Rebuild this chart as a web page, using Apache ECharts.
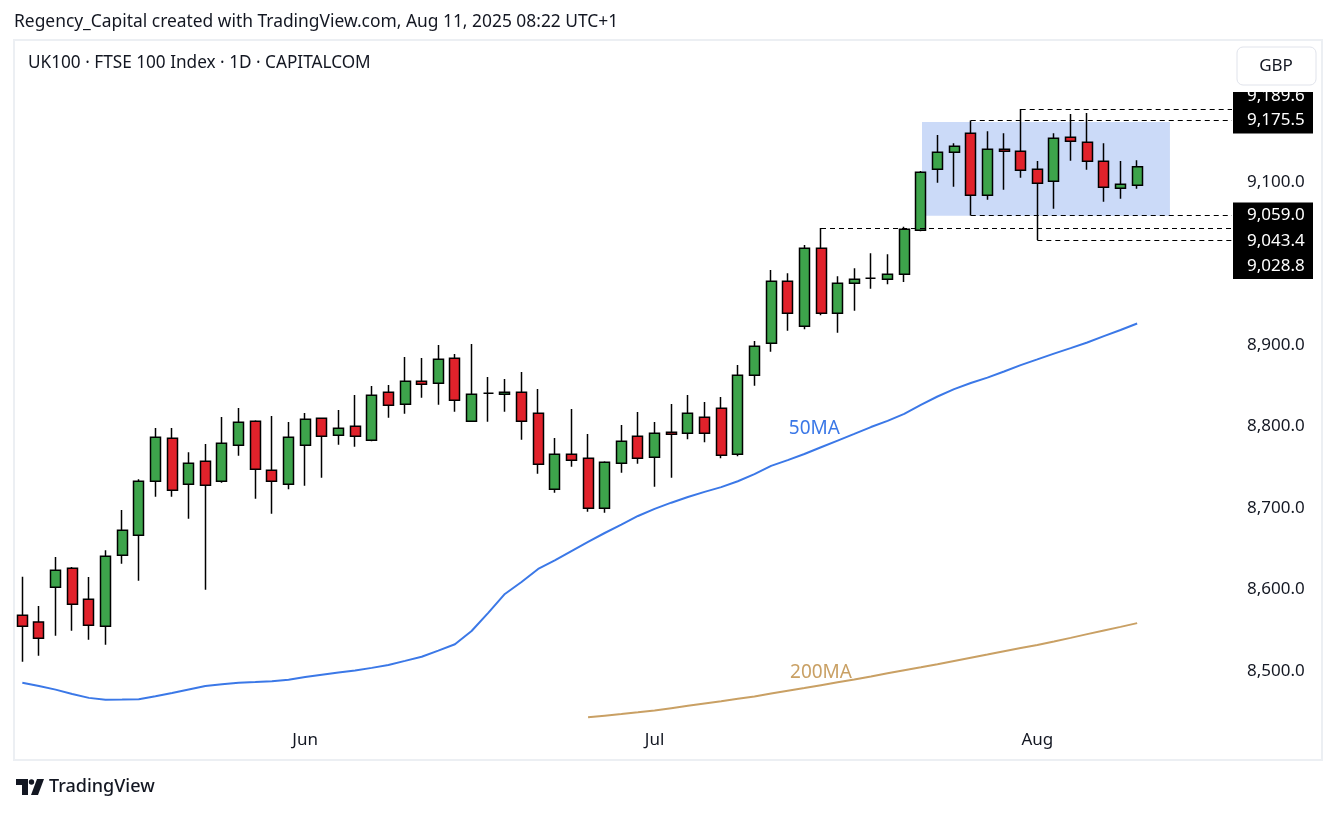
<!DOCTYPE html>
<html>
<head>
<meta charset="utf-8">
<script src="https://cdn.jsdelivr.net/npm/echarts@6/dist/echarts.min.js"></script>
<style>
  html, body { margin: 0; padding: 0; background: #fff; }
  #main { width: 1337px; height: 813px; }
</style>
</head>
<body>
<div id="main"></div>
<script>
// trading days shown (UK100 daily, capital.com)
const dates = [
  '2025-05-08','2025-05-09','2025-05-12','2025-05-13','2025-05-14','2025-05-15','2025-05-16',
  '2025-05-19','2025-05-20','2025-05-21','2025-05-22','2025-05-23','2025-05-26','2025-05-27',
  '2025-05-28','2025-05-29','2025-05-30',
  '2025-06-02','2025-06-03','2025-06-04','2025-06-05','2025-06-06','2025-06-09','2025-06-10',
  '2025-06-11','2025-06-12','2025-06-13','2025-06-16','2025-06-17','2025-06-18','2025-06-19',
  '2025-06-20','2025-06-23','2025-06-24','2025-06-25','2025-06-26','2025-06-27','2025-06-30',
  '2025-07-01','2025-07-02','2025-07-03','2025-07-04','2025-07-07','2025-07-08','2025-07-09',
  '2025-07-10','2025-07-11','2025-07-14','2025-07-15','2025-07-16','2025-07-17','2025-07-18',
  '2025-07-21','2025-07-22','2025-07-23','2025-07-24','2025-07-25','2025-07-28','2025-07-29',
  '2025-07-30','2025-07-31',
  '2025-08-01','2025-08-04','2025-08-05','2025-08-06','2025-08-07','2025-08-08','2025-08-11'
];

const open = [
  8568.3, 8560.1, 8602.7, 8626.0, 8588.0, 8554.8, 8642.0, 8666.5, 8732.8, 8785.5,
  8729.1, 8757.3, 8732.8, 8776.9, 8806.4, 8746.3, 8729.1, 8776.9, 8810.1, 8789.2,
  8800.2, 8783.1, 8842.0, 8827.2, 8855.5, 8853.0, 8883.7, 8806.4, 8840.7, 8839.5,
  8842.0, 8816.2, 8722.9, 8765.9, 8761.0, 8699.6, 8754.8, 8788.0, 8762.2, 8792.9,
  8791.7, 8811.3, 8822.3, 8765.9, 8862.8, 8902.1, 8978.2, 8923.0, 9018.6, 8938.9,
  8975.7, 8981.8, 8980.6, 8986.7, 9040.7, 9115.6, 9136.4, 9159.8, 9083.7, 9140.1,
  9137.7, 9115.6, 9100.9, 9154.8, 9148.7, 9125.4, 9092.3, 9096.0
];
const high = [
  8615.7, 8579.8, 8639.9, 8627.6, 8615.3, 8648.1, 8697.5, 8735.2, 8798.2, 8798.2,
  8768.3, 8778.5, 8811.7, 8822.7, 8807.6, 8812.9, 8805.5, 8816.6, 8810.1, 8820.2,
  8838.6, 8849.7, 8850.9, 8885.3, 8884.1, 8900.0, 8889.0, 8901.2, 8860.7, 8858.3,
  8866.9, 8846.0, 8785.9, 8821.5, 8790.8, 8757.3, 8801.8, 8817.8, 8805.5, 8827.6,
  8838.6, 8830.1, 8836.2, 8875.5, 8904.9, 8992.0, 8988.0, 9022.7, 9043.4, 8984.3,
  8994.1, 9012.5, 9011.3, 9045.0, 9113.5, 9157.7, 9147.5, 9175.5, 9162.2, 9159.8,
  9189.6, 9125.8, 9159.8, 9183.4, 9184.7, 9147.5, 9125.8, 9126.6
];
const low = [
  8511.4, 8518.8, 8543.3, 8549.4, 8538.4, 8532.3, 8631.7, 8610.8, 8713.9, 8713.9,
  8686.9, 8599.8, 8731.0, 8764.2, 8711.4, 8693.0, 8722.9, 8727.4, 8737.2, 8777.7,
  8775.2, 8782.0, 8810.8, 8815.7, 8835.3, 8826.8, 8818.2, 8805.5, 8805.9, 8818.2,
  8783.8, 8742.1, 8718.8, 8750.7, 8695.5, 8694.2, 8743.3, 8754.4, 8726.1, 8737.2,
  8784.3, 8780.6, 8761.0, 8763.4, 8850.1, 8891.8, 8917.5, 8919.3, 8936.4, 8915.1,
  8942.1, 8969.1, 8974.5, 8977.3, 9039.6, 9099.1, 9094.2, 9059.0, 9078.3, 9090.6,
  9105.3, 9028.8, 9067.2, 9126.1, 9115.1, 9075.9, 9079.5, 9091.8
];
const close = [
  8554.8, 8540.1, 8623.6, 8581.8, 8556.1, 8640.7, 8672.6, 8732.8, 8786.7, 8721.7,
  8754.8, 8727.9, 8779.4, 8805.2, 8747.5, 8732.8, 8786.7, 8808.8, 8788.0, 8797.8,
  8788.0, 8838.3, 8826.0, 8855.5, 8851.8, 8882.4, 8832.1, 8839.5, 8840.7, 8842.0,
  8806.4, 8753.6, 8765.9, 8758.5, 8699.6, 8756.1, 8781.8, 8761.0, 8791.7, 8790.4,
  8816.2, 8791.7, 8764.7, 8862.8, 8898.4, 8978.2, 8938.9, 9018.6, 8938.9, 8975.7,
  8980.6, 8981.8, 8986.7, 9041.9, 9111.9, 9136.4, 9143.8, 9083.7, 9140.1, 9137.7,
  9114.4, 9098.4, 9153.6, 9149.9, 9125.4, 9093.5, 9097.2, 9118.8
];

// moving averages
const ma50 = [
  8485.5, 8481.5, 8477.1, 8471.8, 8467.0, 8464.8, 8465.0, 8465.3, 8469.0, 8472.9,
  8477.3, 8481.5, 8483.8, 8485.5, 8486.4, 8487.4, 8489.3, 8492.5, 8495.5, 8498.0,
  8500.5, 8503.8, 8507.4, 8512.4, 8517.5, 8525.0, 8532.8, 8549.1, 8571.3, 8594.5,
  8609.2, 8625.2, 8635.6, 8647.2, 8658.5, 8669.3, 8679.6, 8690.2, 8698.9, 8706.5,
  8713.4, 8719.8, 8725.6, 8732.8, 8741.5, 8751.7, 8758.7, 8766.3, 8774.5, 8782.7,
  8790.9, 8799.3, 8806.9, 8815.5, 8826.4, 8836.8, 8845.8, 8853.3, 8860.0, 8867.5,
  8875.3, 8882.3, 8889.4, 8896.1, 8903.1, 8910.9, 8918.4, 8926.4
];
const ma200Start = 34;
const ma200 = [
  8443.1, 8445.2, 8447.2, 8449.3, 8451.5, 8454.4, 8457.2, 8460.0, 8462.8, 8465.8,
  8468.8, 8472.3, 8475.7, 8479.1, 8482.6, 8486.1, 8489.6, 8493.3, 8497.1, 8500.9,
  8504.5, 8508.3, 8512.3, 8516.2, 8520.1, 8524.2, 8528.1, 8532.0, 8536.2, 8540.6,
  8545.2, 8549.7, 8554.1, 8558.7
];

const yTicks = [8500, 8600, 8700, 8800, 8900, 9000, 9100];

// drawn range box (bar index / price)
const boxFrom = 54.07, boxTo = 68.97, boxHigh = 9173.6, boxLow = 9058.6;

const xMin = -0.44, xMax = 72.7;
const yMin = 8442.3, yMax = 9273.0;

const up = '#3da44b', down = '#e1222b';
const ink = '#131722';
const font = 'Noto Sans';
const fmt = v => v.toLocaleString('en-US', { minimumFractionDigits: 1, maximumFractionDigits: 1 });
const monthNames = { '05': 'May', '06': 'Jun', '07': 'Jul', '08': 'Aug' };

const monthStarts = [];
dates.forEach((d, i) => {
  if (i > 0 && d.slice(5, 7) !== dates[i - 1].slice(5, 7)) monthStarts.push(i);
});

const last = dates.length - 1;
// horizontal level lines: start bar, price, label shift
const levels = [
  [60, high[60], -13],
  [57, high[57], 0],
  [57, low[57], 0],
  [48, high[48], 13],
  [61, low[61], 26]
];

function tagLabel(bg, dy) {
  return {
    show: true,
    position: 'end',
    distance: 1,
    formatter: p => fmt(p.value),
    color: '#fff',
    backgroundColor: bg,
    fontFamily: font,
    fontSize: 17,
    lineHeight: 17,
    width: 58,
    padding: [5, 8, 4, 14],
    offset: [0, dy]
  };
}

const markLines = levels.map(l => [
  {
    coord: [l[0], l[1]],
    value: l[1],
    lineStyle: { color: '#000', type: [5, 4], width: 1 },
    label: tagLabel('#000', l[2])
  },
  { coord: [xMax, l[1]] }
]);
markLines.push([
  {
    coord: [last, close[last]],
    value: close[last],
    lineStyle: { opacity: 0 },
    label: tagLabel(up, 0)
  },
  { coord: [xMax, close[last]] }
]);

var chartDom = document.getElementById('main');
var myChart = echarts.init(chartDom);
var option = {
  animation: false,
  backgroundColor: '#fff',
  grid: { left: 15, right: 105, top: 41, bottom: 95 },
  xAxis: {
    type: 'value',
    min: xMin,
    max: xMax,
    axisLine: { show: false },
    axisTick: { show: false },
    splitLine: { show: false },
    axisLabel: {
      customValues: monthStarts,
      formatter: v => monthNames[dates[Math.round(v)].slice(5, 7)],
      color: ink,
      fontFamily: font,
      fontSize: 17,
      margin: 14
    }
  },
  yAxis: {
    type: 'value',
    position: 'right',
    min: yMin,
    max: yMax,
    axisLine: { show: false },
    axisTick: { show: false },
    splitLine: { show: false },
    axisLabel: {
      customValues: yTicks,
      formatter: v => fmt(v),
      color: ink,
      fontFamily: font,
      fontSize: 17,
      margin: 15
    }
  },
  series: [
    {
      name: 'UK100',
      type: 'candlestick',
      barWidth: 10.5,
      encode: { x: 0, y: [1, 2, 3, 4] },
      data: dates.map((d, i) => [i, open[i], close[i], low[i], high[i]]),
      itemStyle: {
        color: up,
        color0: down,
        borderColor: '#000',
        borderColor0: '#000',
        borderColorDoji: '#000',
        borderWidth: 1.5
      },
      markArea: {
        silent: true,
        itemStyle: { color: '#cbdaf8' },
        data: [[{ coord: [boxFrom, boxHigh] }, { coord: [boxTo, boxLow] }]]
      },
      markLine: {
        silent: true,
        symbol: ['none', 'none'],
        data: markLines
      }
    },
    {
      name: '50MA',
      type: 'line',
      showSymbol: false,
      data: ma50.map((v, i) => [i, v]),
      lineStyle: { color: '#3b78e7', width: 2 },
      markPoint: {
        silent: true,
        symbol: 'circle',
        symbolSize: 1,
        itemStyle: { color: 'rgba(0,0,0,0)' },
        label: { show: true, position: 'inside', formatter: '50MA', color: '#3b78e7', fontFamily: font, fontSize: 19 },
        data: [{ coord: [47.6, 8798] }]
      }
    },
    {
      name: '200MA',
      type: 'line',
      showSymbol: false,
      data: ma200.map((v, i) => [i + ma200Start, v]),
      lineStyle: { color: '#c9a064', width: 2 },
      markPoint: {
        silent: true,
        symbol: 'circle',
        symbolSize: 1,
        itemStyle: { color: 'rgba(0,0,0,0)' },
        label: { show: true, position: 'inside', formatter: '200MA', color: '#c9a064', fontFamily: font, fontSize: 19 },
        data: [{ coord: [48.0, 8497.5] }]
      }
    }
  ],
  graphic: [
    {
      type: 'rect', silent: true, z: 1,
      shape: { x: 14, y: 40, width: 1308, height: 720 },
      style: { fill: 'none', stroke: '#eceff3', lineWidth: 2 }
    },
    {
      type: 'text', silent: true,
      style: { x: 14, y: 22, text: 'Regency_Capital created with TradingView.com, Aug 11, 2025 08:22 UTC+1',
        fill: ink, font: '17.4px "Noto Sans"', verticalAlign: 'middle' }
    },
    {
      type: 'text', silent: true,
      style: { x: 28, y: 63, text: 'UK100 · FTSE 100 Index · 1D · CAPITALCOM',
        fill: ink, font: '17.2px "Noto Sans"', verticalAlign: 'middle' }
    },
    {
      type: 'rect', silent: true, z: 100,
      shape: { x: 1233, y: 42, width: 88, height: 50 },
      style: { fill: '#fff' }
    },
    {
      type: 'rect', silent: true, z: 101,
      shape: { x: 1237, y: 47, width: 79, height: 38, r: 6 },
      style: { fill: '#fff', stroke: '#e0e3eb', lineWidth: 1 }
    },
    {
      type: 'text', silent: true, z: 102,
      style: { x: 1276, y: 66, text: 'GBP', fill: ink, font: '17px "Noto Sans"', align: 'center', verticalAlign: 'middle' }
    },
    {
      type: 'polygon', silent: true,
      shape: { points: [[16, 779], [28, 779], [28, 795], [22, 795], [22, 785], [16, 785]] },
      style: { fill: ink }
    },
    {
      type: 'circle', silent: true,
      shape: { cx: 31.5, cy: 782, r: 2.7 },
      style: { fill: ink }
    },
    {
      type: 'polygon', silent: true,
      shape: { points: [[37, 779], [44, 779], [38, 795], [31, 795]] },
      style: { fill: ink }
    },
    {
      type: 'text', silent: true,
      style: { x: 49, y: 787, text: 'TradingView', fill: ink, font: '500 18px "Noto Sans"', verticalAlign: 'middle' }
    }
  ]
};

option && myChart.setOption(option);
</script>
</body>
</html>
